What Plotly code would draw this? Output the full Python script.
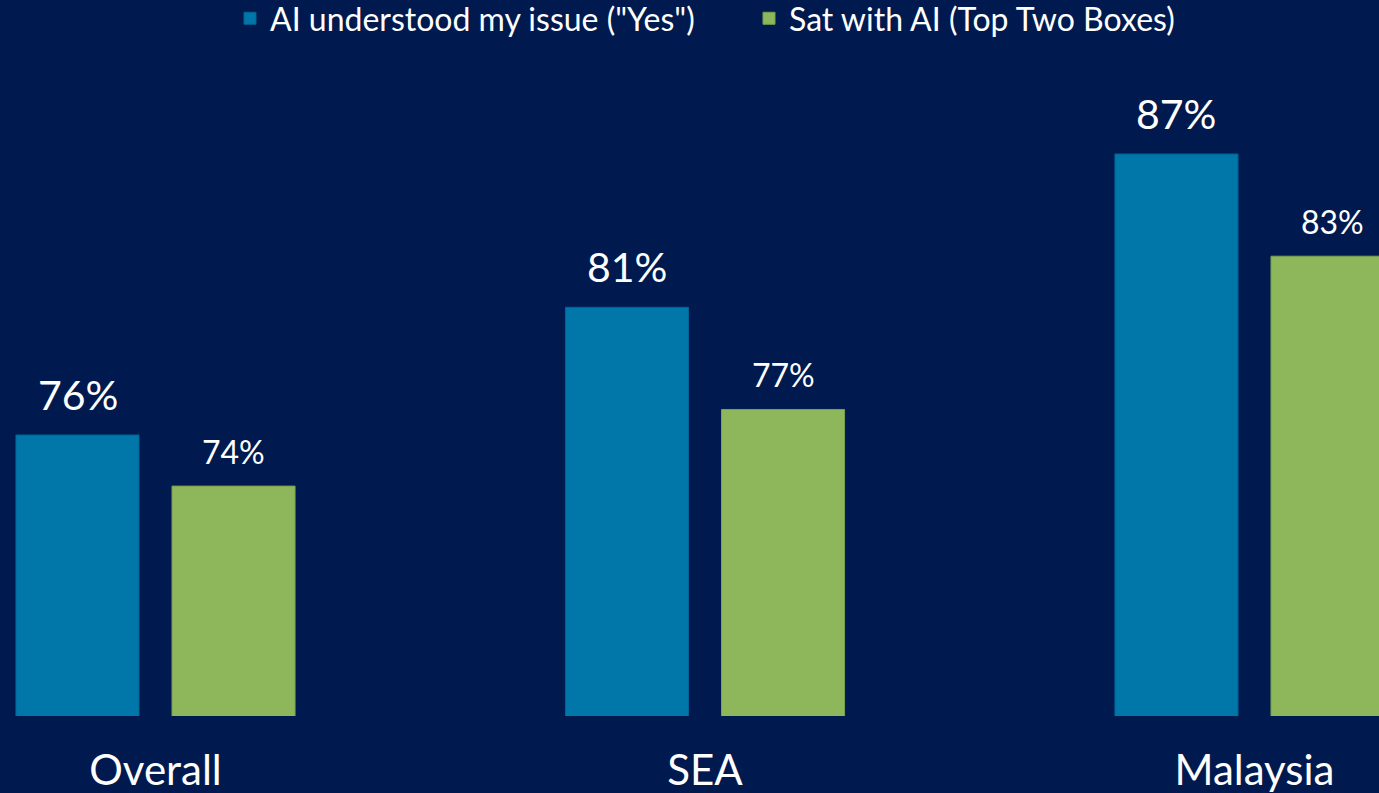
import plotly.graph_objects as go

categories = ["Overall", "SEA", "Malaysia"]
understood = [76, 81, 87]
satisfied = [74, 77, 83]
series_names = ['AI understood my issue ("Yes")', "Sat with AI (Top Two Boxes)"]

BG = "rgb(0,26,80)"
BLUE = "rgb(0,119,168)"
GREEN = "rgb(142,182,90)"
FONT = "Lato"

fig = go.Figure()
fig.add_trace(go.Bar(x=categories, y=understood, name=series_names[0],
                     marker=dict(color=BLUE, line=dict(color="rgb(0,100,150)", width=1))))
fig.add_trace(go.Bar(x=categories, y=satisfied, name=series_names[1],
                     marker=dict(color=GREEN, line=dict(color="rgb(120,160,80)", width=1))))

annotations = []
for c, v in zip(categories, understood):
    annotations.append(dict(x=c, y=v, xref="x", yref="y", text=f"{v}%", showarrow=False,
                            xshift=-78, yshift=14, yanchor="bottom",
                            font=dict(family=FONT, size=41, color="white")))
for c, v in zip(categories, satisfied):
    annotations.append(dict(x=c, y=v, xref="x", yref="y", text=f"{v}%", showarrow=False,
                            xshift=78, yshift=13, yanchor="bottom",
                            font=dict(family=FONT, size=32, color="white")))

fig.update_layout(
    width=1379, height=793,
    margin=dict(l=0, r=0, t=0, b=77, pad=0, autoexpand=False),
    paper_bgcolor=BG, plot_bgcolor=BG,
    barmode="group", bargap=0.432, bargroupgap=0.2115,
    font=dict(family=FONT, color="white"),
    showlegend=True,
    legend=dict(orientation="h", x=230 / 1379, xanchor="left",
                y=1.0126, yanchor="top",
                entrywidth=474, entrywidthmode="pixels",
                font=dict(family=FONT, size=32, color="white"), bgcolor="rgba(0,0,0,0)"),
    xaxis=dict(range=[-0.283, 2.2266], showgrid=False, zeroline=False, showline=False,
               ticks="", ticklabelstandoff=26, tickfont=dict(family=FONT, size=42, color="white")),
    yaxis=dict(range=[65, 93.03], visible=False, showgrid=False),
    annotations=annotations,
)

fig.write_html("out.html", config={"displayModeBar": False},
               post_script="document.body.style.margin='0';document.body.style.background='" + BG + "';")
